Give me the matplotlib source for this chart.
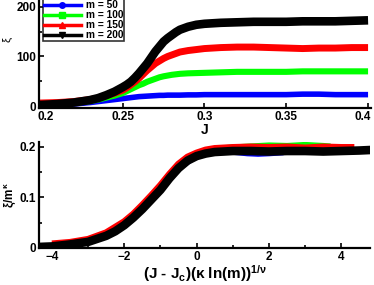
import matplotlib
matplotlib.use("Agg")
import numpy as np
import matplotlib.pyplot as plt
import matplotlib.transforms as mtransforms
from matplotlib.lines import Line2D
from matplotlib.ticker import MultipleLocator

plt.rcParams["font.family"] = ["Liberation Sans", "DejaVu Sans"]
plt.rcParams["font.weight"] = "bold"
plt.rcParams["mathtext.fontset"] = "custom"
plt.rcParams["mathtext.rm"] = "Liberation Sans:bold"
plt.rcParams["mathtext.bf"] = "Liberation Sans:bold"
plt.rcParams["mathtext.it"] = "Liberation Sans"

# top panel: xi vs J
J = [0.199, 0.21, 0.22, 0.23, 0.235, 0.24, 0.245, 0.25, 0.2525, 0.255, 0.2575, 0.26,
     0.2625, 0.265, 0.2675, 0.27, 0.2725, 0.275, 0.2775, 0.28, 0.2825, 0.285, 0.29,
     0.295, 0.30, 0.305, 0.31, 0.32, 0.33, 0.34, 0.35, 0.36, 0.37, 0.38, 0.39, 0.40]
xi_50 = [0, 2, 4, 7, 9, 11, 13, 15, 16, 17, 18, 19,
         19.5, 20, 20.5, 21, 21.5, 21.5, 22, 22, 22, 22, 22.5,
         22.5, 23, 23, 23, 23, 23, 23, 23, 24, 24, 23, 23, 23]
xi_100 = [1, 3, 6, 10, 13, 17, 21, 26, 30, 34, 38, 42,
          45, 49, 52, 55, 58, 60, 61.5, 63, 64, 65, 66,
          66.5, 67, 67.5, 68, 69, 69, 69, 69, 70, 70, 70, 70, 70]
xi_150 = [6, 7, 9, 13, 16, 21, 26, 32, 37, 43, 49, 56,
          64, 72, 79, 86, 91, 96, 100, 103, 106, 109, 112,
          114, 116, 117, 118, 119, 119, 118, 117, 116, 117, 117, 118, 118]
xi_200 = [2, 4, 7, 12, 16, 22, 29, 38, 43, 49, 57, 66,
          76, 86, 98, 110, 120, 130, 137, 143, 149, 154, 160,
          164, 166, 167, 168, 169, 170, 170, 170, 171, 171, 171, 172, 173]

# bottom panel: scaling collapse
x_50 = [-2.3, -2.0, -1.5, -1.0, -0.5, 0.0, 0.5, 1.0, 1.4, 1.7, 2.0, 2.4]
y_50 = [0.032, 0.045, 0.077, 0.115, 0.158, 0.182, 0.189, 0.190, 0.187, 0.186, 0.187, 0.189]
x_100 = [-3.4, -3.0, -2.5, -2.0, -1.5, -1.0, -0.75, -0.5, -0.25, 0.0, 0.5, 1.0, 1.5, 2.0,
         2.5, 3.0, 3.5, 3.7]
y_100 = [0.010, 0.015, 0.027, 0.049, 0.082, 0.121, 0.143, 0.164, 0.178, 0.187, 0.196, 0.199,
         0.201, 0.203, 0.202, 0.204, 0.202, 0.201]
x_150 = [-4.0, -3.5, -3.0, -2.5, -2.0, -1.75, -1.5, -1.25, -1.0, -0.75, -0.5, -0.25, 0.0,
         0.25, 0.5, 1.0, 1.5, 2.0, 2.5, 3.0, 3.5, 4.0, 4.36]
y_150 = [0.008, 0.011, 0.017, 0.030, 0.052, 0.067, 0.085, 0.104, 0.124, 0.146, 0.166, 0.180,
         0.188, 0.194, 0.197, 0.199, 0.200, 0.199, 0.200, 0.198, 0.200, 0.199, 0.199]
x_200 = [-4.36, -4.0, -3.5, -3.0, -2.5, -2.25, -2.0, -1.75, -1.5, -1.25, -1.0, -0.75, -0.5,
         -0.25, 0.0, 0.25, 0.5, 1.0, 1.5, 2.0, 2.5, 3.0, 3.5, 4.0, 4.5, 4.8]
y_200 = [0.002, 0.003, 0.007, 0.012, 0.024, 0.033, 0.045, 0.060, 0.077, 0.096, 0.115, 0.138,
         0.158, 0.173, 0.182, 0.187, 0.190, 0.192, 0.192, 0.191, 0.192, 0.192, 0.191, 0.192,
         0.193, 0.194]

labels = ["m = 50", "m = 100", "m = 150", "m = 200"]
colors = ["#0000ff", "#00ff00", "#ff0000", "#000000"]
markers = ["o", "s", "^", "v"]
widths = [4, 4.4, 5, 6.2]

fig = plt.figure(figsize=(3.74, 2.85), dpi=100)
ax1 = fig.add_axes([0.104, 0.621, 0.888, 0.379])
ax2 = fig.add_axes([0.104, 0.13, 0.886, 0.372])

for ys, c, w in zip([xi_50, xi_100, xi_150, xi_200], colors, widths):
    ax1.plot(J, ys, color=c, lw=w, solid_capstyle="butt", solid_joinstyle="round")

xs_list = [x_50, x_100, x_150, x_200]
ys_list = [y_50, y_100, y_150, y_200]
for xs, ys, c, w in zip(xs_list, ys_list, colors, widths):
    ax2.plot(xs, ys, color=c, lw=w, solid_capstyle="butt", solid_joinstyle="round")

ax1.set_xlim(0.1988, 0.4018)
ax1.set_ylim(-4, 214)
ax1.set_xticks([0.2, 0.25, 0.3, 0.35, 0.4])
ax1.set_xticklabels(["0.2", "0.25", "0.3", "0.35", "0.4"])
ax1.set_yticks([0, 100, 200])
ax1.yaxis.set_minor_locator(MultipleLocator(50))

ax2.set_xlim(-4.36, 4.8)
ax2.set_ylim(0, 0.21)
ax2.set_xticks([-4, -2, 0, 2, 4])
ax2.xaxis.set_minor_locator(MultipleLocator(1))
ax2.set_yticks([0, 0.1, 0.2])
ax2.set_yticklabels(["0", "0.1", "0.2"])
ax2.yaxis.set_minor_locator(MultipleLocator(0.05))

for ax in (ax1, ax2):
    for s in ("top", "right"):
        ax.spines[s].set_visible(False)
    for s in ("left", "bottom"):
        ax.spines[s].set_linewidth(1.6)
    ax.tick_params(which="both", direction="in", width=1.2, labelsize=8.5, pad=2)
    ax.tick_params(which="major", length=3.5)
    ax.tick_params(which="minor", length=2.5)
    ax.patch.set_alpha(0)

# nudge the end tick labels of the top panel like the original
tlabels = ax1.get_xticklabels()
first, last = tlabels[0], tlabels[-1]
first.set_transform(first.get_transform() +
                    mtransforms.ScaledTranslation(5 / 100, 0, fig.dpi_scale_trans))
last.set_transform(last.get_transform() +
                   mtransforms.ScaledTranslation(-5 / 100, 0, fig.dpi_scale_trans))

ax1.set_xlabel("J", fontsize=10, fontweight="bold", labelpad=0)
fig.text(0.02, 0.86, "ξ", fontsize=8, fontweight="normal", rotation=90, ha="center", va="center")
ax2.set_ylabel("ξ/m$^{\\mathit{κ}}$", fontsize=8.5, fontweight="bold", labelpad=1)
ax2.set_xlabel("(J - J$_{\\mathbf{c}}$)(κ ln(m))$^{\\mathit{1/ν}}$", fontsize=11, fontweight="bold",
               labelpad=0)

handles = [Line2D([], [], color=c, marker=m, lw=2.5, markersize=4) for c, m in zip(colors, markers)]
leg = ax1.legend(handles, labels, loc="upper left", bbox_to_anchor=(0.012, 1.01), fontsize=7.3,
                 frameon=True, fancybox=False, edgecolor="black", handlelength=3.6,
                 borderpad=0.12, labelspacing=0.0, handletextpad=0.5, borderaxespad=0)
leg.get_frame().set_linewidth(1.2)
for t in leg.get_texts():
    t.set_fontweight("bold")

fig.savefig("out.png", dpi=100)
